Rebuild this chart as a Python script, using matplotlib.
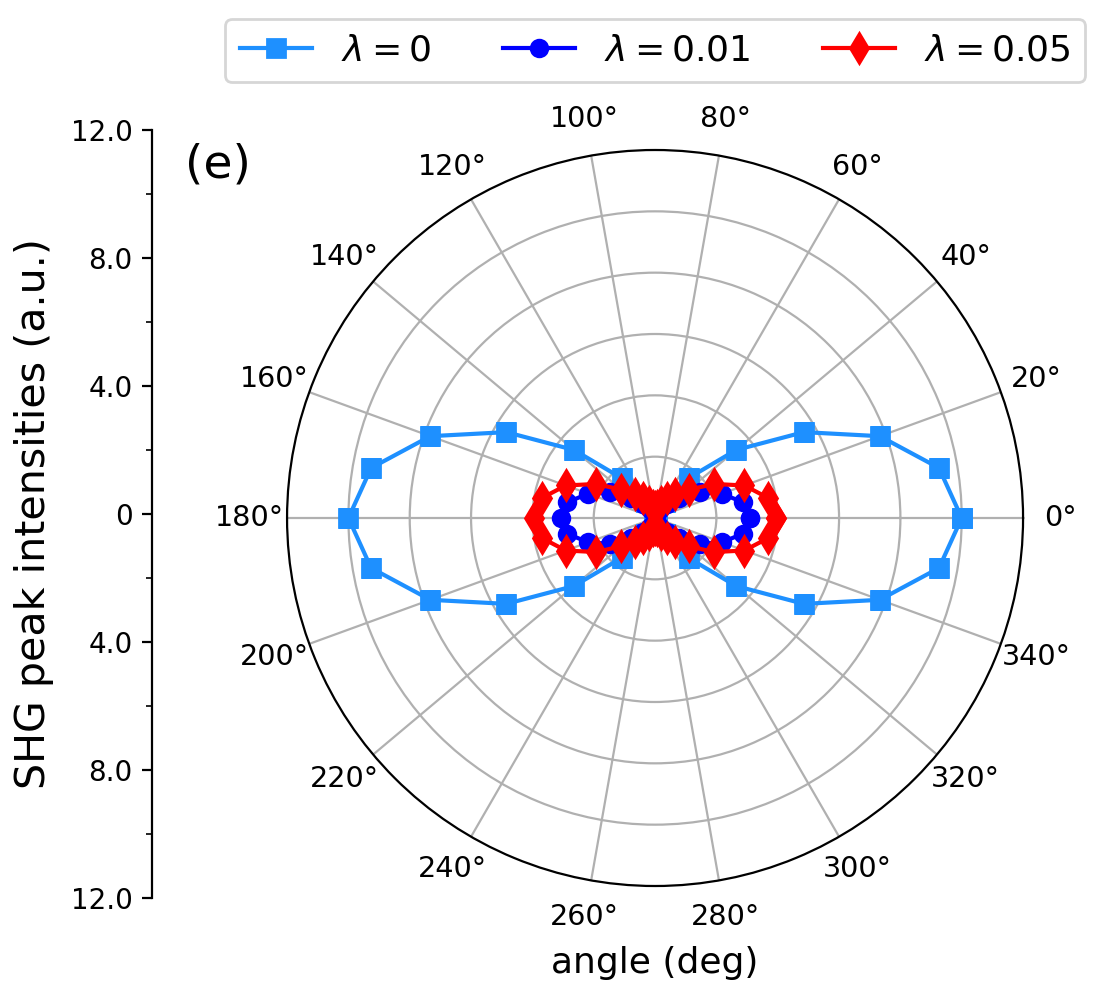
import numpy as np
import matplotlib
matplotlib.use('Agg')
import matplotlib.pyplot as plt

# angles in degrees, 10 deg steps, closed loop
angles = [0, 10, 20, 30, 40, 50, 60, 70, 80, 90, 100, 110, 120, 130, 140, 150, 160, 170,
          180, 190, 200, 210, 220, 230, 240, 250, 260, 270, 280, 290, 300, 310, 320, 330, 340, 350, 360]

# SHG peak intensities (a.u.)
shg_l0 = [10.0, 9.4, 7.8, 5.6, 3.45, 1.7, 0.62, 0.14, 0.01, 0.0, 0.01, 0.14, 0.62, 1.7, 3.45, 5.6, 7.8, 9.4,
          10.0, 9.4, 7.8, 5.6, 3.45, 1.7, 0.62, 0.14, 0.01, 0.0, 0.01, 0.14, 0.62, 1.7, 3.45, 5.6, 7.8, 9.4, 10.0]
shg_l001 = [3.08, 2.92, 2.32, 1.68, 1.02, 0.6, 0.35, 0.2, 0.1, 0.08, 0.1, 0.2, 0.35, 0.6, 1.02, 1.68, 2.32, 2.92,
            3.08, 2.92, 2.32, 1.68, 1.02, 0.6, 0.35, 0.2, 0.1, 0.08, 0.1, 0.2, 0.35, 0.6, 1.02, 1.68, 2.32, 2.92, 3.08]
shg_l005 = [3.95, 3.75, 3.1, 2.22, 1.43, 1.02, 0.77, 0.55, 0.4, 0.35, 0.4, 0.55, 0.77, 1.02, 1.43, 2.22, 3.1, 3.75,
            3.95, 3.75, 3.1, 2.22, 1.43, 1.02, 0.77, 0.55, 0.4, 0.35, 0.4, 0.55, 0.77, 1.02, 1.43, 2.22, 3.1, 3.75, 3.95]

left_ticks = [-12, -8, -4, 0, 4, 8, 12]
left_ticklabels = ['12.0', '8.0', '4.0', '0', '4.0', '8.0', '12.0']

fig = plt.figure(figsize=(5.52, 5.0), dpi=200)

# polar plot
ax = fig.add_axes([0.26, 0.114, 0.6667, 0.736], projection='polar')
th = np.deg2rad(angles)
ax.plot(th, shg_l0, color='dodgerblue', marker='s', ms=6.5, lw=1.5, label=r'$\lambda = 0$')
ax.plot(th, shg_l001, color='blue', marker='o', ms=6, lw=1.5, label=r'$\lambda = 0.01$')
ax.plot(th, shg_l005, color='red', marker='d', ms=7.5, lw=1.5, label=r'$\lambda = 0.05$')
ax.set_ylim(0, 12)
ax.set_yticks([2, 4, 6, 8, 10])
ax.set_yticklabels([])
ax.set_thetagrids(range(0, 360, 20))
ax.tick_params(axis='x', labelsize=10.3, pad=3)
ax.grid(True, color='#b0b0b0', lw=0.8)

# linear axis on the left
ax2 = fig.add_axes([0.1377, 0.102, 0.01, 0.768])
ax2.patch.set_visible(False)
for s in ['top', 'right', 'bottom']:
    ax2.spines[s].set_visible(False)
ax2.set_xticks([])
ax2.set_ylim(-12, 12)
ax2.set_yticks(left_ticks)
ax2.set_yticklabels(left_ticklabels)
ax2.set_yticks([-10, -6, -2, 2, 6, 10], minor=True)
ax2.tick_params(axis='y', labelsize=10)
ax2.set_ylabel('SHG peak intensities (a.u.)', fontsize=14.8, labelpad=6)

fig.text(655 / 1104, 1 - 963 / 1000, 'angle (deg)', ha='center', va='center', fontsize=13)
fig.text(218 / 1104, 1 - 165 / 1000, '(e)', ha='center', va='center', fontsize=17)

fig.legend(loc='lower center', bbox_to_anchor=(655 / 1104, 1 - 82 / 1000), ncol=3,
           fontsize=13, borderaxespad=0)

plt.savefig('out.png', dpi=200)
